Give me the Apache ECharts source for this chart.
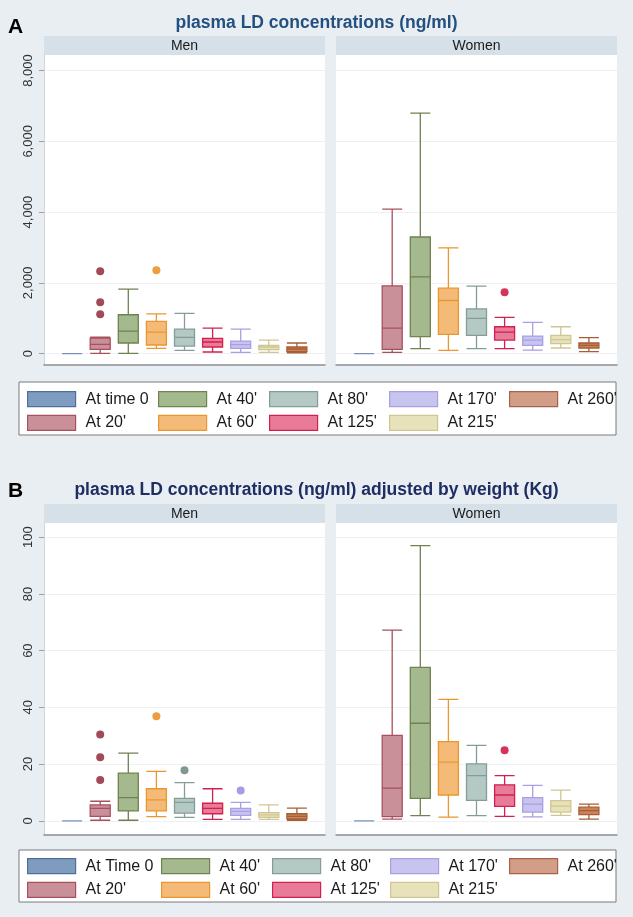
<!DOCTYPE html>
<html>
<head>
    <meta charset="utf-8" />
    <script src="https://cdn.jsdelivr.net/npm/echarts@6/dist/echarts.min.js"></script>
    <style>
        html, body { margin: 0; padding: 0; background: #e8eef2; }
        #chart { width: 633px; height: 917px; }
    </style>
</head>
<body>
<div id="chart"></div>
<script type="text/javascript">
    // time points (legend labels), panel A and panel B
    var namesA = ["At time 0", "At 20'", "At 40'", "At 60'", "At 80'", "At 125'", "At 170'", "At 215'", "At 260'"];
    var namesB = ["At Time 0", "At 20'", "At 40'", "At 60'", "At 80'", "At 125'", "At 170'", "At 215'", "At 260'"];

    // box stats [min, Q1, median, Q3, max] per time point
    var menA = [[0, 0, 0, 0, 0], [10, 124, 265, 442, 470], [10, 301, 639, 1100, 1822], [150, 245, 611, 912, 1127],
        [94, 216, 460, 695, 1136], [47, 188, 330, 432, 724], [38, 150, 254, 357, 696], [38, 113, 188, 235, 385], [20, 57, 132, 188, 301]];
    var womenA = [[0, 0, 0, 0, 0], [38, 124, 724, 1917, 4085], [141, 479, 2170, 3297, 6800], [94, 545, 1503, 1851, 2987],
        [141, 517, 996, 1268, 1907], [141, 385, 611, 761, 1024], [103, 235, 385, 498, 884], [160, 282, 395, 517, 761], [57, 160, 235, 301, 451]];
    var menB = [[0, 0, 0, 0, 0], [0.2, 1.6, 4.4, 5.6, 6.9], [0.2, 3.5, 8.2, 16.8, 23.9], [1.5, 3.5, 7.4, 11.3, 17.4],
        [1.2, 2.7, 6.5, 7.9, 13.5], [0.5, 2.5, 4.4, 6.2, 11.3], [0.5, 1.9, 3.3, 4.4, 6.5], [0.5, 1.2, 2.1, 2.9, 5.6], [0.2, 0.7, 1.6, 2.5, 4.5]];
    var womenB = [[0, 0, 0, 0, 0], [0.6, 1.5, 11.5, 30.1, 67.2], [1.8, 7.9, 34.4, 54.1, 97], [1.3, 9.1, 20.7, 27.9, 42.8],
        [1.8, 7.2, 15.9, 20.1, 26.6], [1.6, 5.1, 9.1, 12.7, 15.9], [1.4, 3.1, 5.9, 8.2, 12.5], [1.9, 3.1, 5.2, 7.1, 10.8], [0.6, 2.2, 3.6, 4.8, 5.9]];

    // outliers [time point index, value]
    var outMenA = [[1, 2330], [1, 1455], [1, 1117], [3, 2357]];
    var outWomenA = [[5, 1737]];
    var outMenB = [[1, 30.4], [1, 22.4], [1, 14.4], [3, 36.9], [4, 17.8], [6, 10.7]];
    var outWomenB = [[5, 24.9]];

    // y tick labels
    var ticksA = [0, 2000, 4000, 6000, 8000];
    var ticksB = [0, 20, 40, 60, 80, 100];

    var fills = ['#8aa0c4', '#c9909a', '#a5b98e', '#f4bb78', '#b4c8c4', '#e87b98', '#c8c4f0', '#e8e2bb', '#c98357'];
    var borders = ['#7b8ec0', '#a8505f', '#6f8250', '#eb962f', '#859d99', '#d41f4f', '#a99fe4', '#cfc694', '#a85e35'];
    var legFills = ['#7f9cc0', '#c9909a', '#a5b98e', '#f4bb78', '#b4c8c4', '#e87b98', '#c8c4f0', '#e8e2bb', '#d29e88'];
    var legBorders = ['#4f6f98', '#a8505f', '#6f8250', '#eb962f', '#859d99', '#d41f4f', '#a99fe4', '#cfc694', '#a8624a'];
    var outCols = ['#4f6f98', '#8b1e2e', '#6f8250', '#e8860f', '#5f8077', '#cc0030', '#8e84dc', '#cfc694', '#a85e35'];

    var font = 'Liberation Sans';

    function boxData(arr) {
        return arr.map(function (d, i) {
            return { value: [i + 1].concat(d), itemStyle: { color: fills[i], borderColor: borders[i] } };
        });
    }
    function outData(arr) {
        return arr.map(function (d) {
            return { value: [d[0] + 1, d[1]], itemStyle: { color: outCols[d[0]] } };
        });
    }

    var grids = [
        { left: 44, top: 55, width: 281, height: 310 },
        { left: 336, top: 55, width: 281, height: 310 },
        { left: 44, top: 523, width: 281, height: 312 },
        { left: 336, top: 523, width: 281, height: 312 }
    ];
    var xAxes = [], yAxes = [];
    for (var g = 0; g < 4; g++) {
        grids[g].show = true;
        grids[g].backgroundColor = '#ffffff';
        grids[g].borderWidth = 0;
        xAxes.push({
            type: 'value', gridIndex: g, min: 0, max: 10,
            axisLine: { show: true, onZero: false, lineStyle: { color: '#8a8f94', width: 1.5 } },
            axisTick: { show: false }, axisLabel: { show: false }, splitLine: { show: false }
        });
        var isA = g < 2, isLeft = g % 2 === 0;
        var ticks = isA ? ticksA : ticksB;
        yAxes.push({
            type: 'value', gridIndex: g,
            min: isA ? -320 : -5, max: isA ? 8440 : 105,
            axisLine: { show: isLeft, lineStyle: { color: '#cfd5da', width: 1 } },
            axisTick: { show: isLeft, length: 5, customValues: ticks, lineStyle: { color: '#9aa0a6' } },
            axisLabel: {
                show: isLeft, customValues: ticks, rotate: 90, margin: 9,
                fontFamily: font, fontSize: 13, color: '#333',
                formatter: function (v) { return Number(v).toLocaleString('en-US'); }
            },
            splitLine: { show: true, lineStyle: { color: '#eef0f2', width: 1 } }
        });
    }

    var series = [];
    [menA, womenA, menB, womenB].forEach(function (arr, g) {
        series.push({
            type: 'boxplot', xAxisIndex: g, yAxisIndex: g,
            boxWidth: [20, 20], data: boxData(arr),
            itemStyle: { borderWidth: 1.3 },
            emphasis: { disabled: true }, silent: true
        });
    });
    [outMenA, outWomenA, outMenB, outWomenB].forEach(function (arr, g) {
        series.push({
            type: 'scatter', xAxisIndex: g, yAxisIndex: g,
            symbolSize: 8, data: outData(arr), silent: true
        });
    });

    // legend-only series
    var legendNames = [namesA[0], namesB[0]].concat(namesA.slice(1));
    legendNames.forEach(function (n) {
        series.push({ type: 'line', name: n, data: [], xAxisIndex: 0, yAxisIndex: 0 });
    });

    var legends = [];
    function addLegends(names, colX, top) {
        for (var c = 0; c < 5; c++) {
            var items = [];
            [2 * c, 2 * c + 1].forEach(function (k) {
                if (k < names.length) {
                    items.push({ name: names[k], itemStyle: { color: legFills[k], borderColor: legBorders[k], borderWidth: 1.2 } });
                }
            });
            legends.push({
                orient: 'vertical', left: colX[c], top: top, padding: 0,
                itemWidth: 48, itemHeight: 15, itemGap: 7.5, icon: 'rect',
                selectedMode: false,
                textStyle: { fontFamily: font, fontSize: 16, color: '#1a1a1a', lineHeight: 15, padding: [0, 0, 0, 5] },
                data: items
            });
        }
    }
    addLegends(namesA, [27, 158, 269, 389, 509], 391);
    addLegends(namesB, [27, 161, 272, 390, 509], 858);

    function strip(x, y, label) {
        return {
            type: 'group', children: [
                { type: 'rect', shape: { x: x, y: y, width: 281, height: 19 }, style: { fill: '#d5e0e9' } },
                { type: 'text', x: x + 140.5, y: y + 10, style: { text: label, fontFamily: font, fontSize: 14, fill: '#1a1a1a', align: 'center', verticalAlign: 'middle' } }
            ]
        };
    }

    var option = {
        backgroundColor: '#e8eef2',
        animation: false,
        title: [
            { text: 'plasma LD concentrations (ng/ml)', left: 'center', top: 9, textStyle: { fontFamily: font, fontSize: 17.5, fontWeight: 'bold', color: '#24507f' } },
            { text: 'plasma LD concentrations (ng/ml) adjusted by weight (Kg)', left: 'center', top: 476, textStyle: { fontFamily: font, fontSize: 17.5, fontWeight: 'bold', color: '#1e2d62' } },
            { text: 'A', left: 3, top: 12, textStyle: { fontFamily: font, fontSize: 21, fontWeight: 'bold', color: '#000' } },
            { text: 'B', left: 3, top: 476, textStyle: { fontFamily: font, fontSize: 21, fontWeight: 'bold', color: '#000' } }
        ],
        graphic: [
            strip(44, 36, 'Men'), strip(336, 36, 'Women'),
            strip(44, 504, 'Men'), strip(336, 504, 'Women'),
            { type: 'rect', z: -1, shape: { x: 19, y: 382, width: 597, height: 53 }, style: { fill: '#ffffff', stroke: '#7a7a7a', lineWidth: 1 } },
            { type: 'rect', z: -1, shape: { x: 19, y: 850, width: 597, height: 52 }, style: { fill: '#ffffff', stroke: '#7a7a7a', lineWidth: 1 } }
        ],
        legend: legends,
        grid: grids,
        xAxis: xAxes,
        yAxis: yAxes,
        series: series
    };

    var chart = echarts.init(document.getElementById('chart'));
    chart.setOption(option);
</script>
</body>
</html>
